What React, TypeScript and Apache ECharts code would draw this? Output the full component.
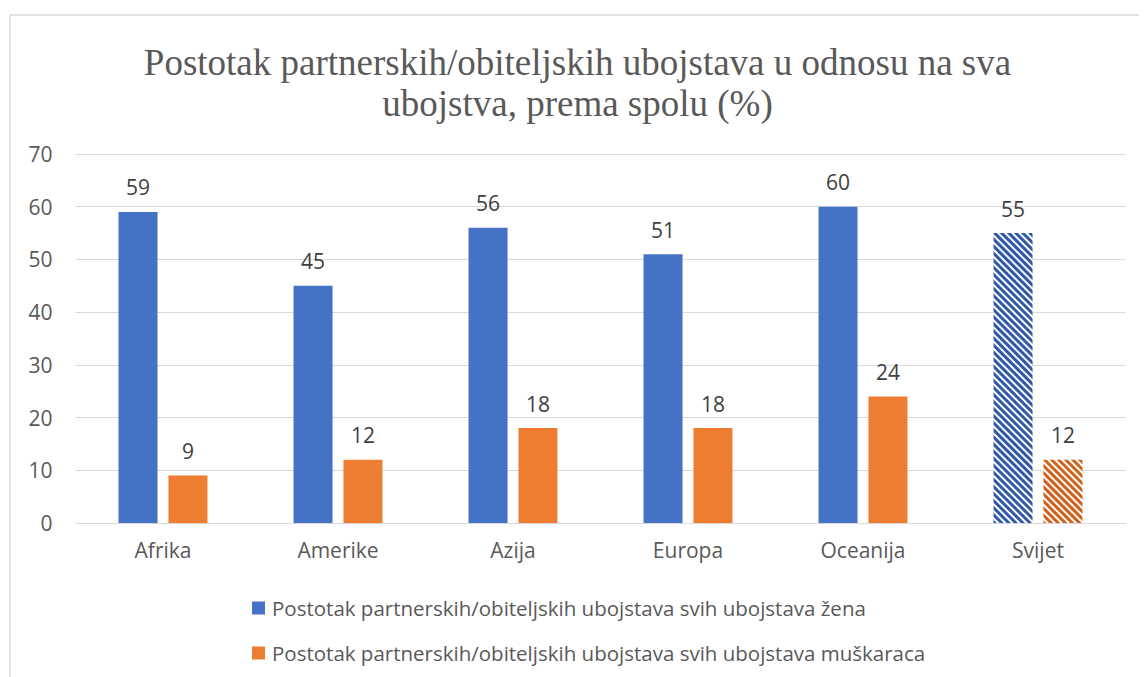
import React, { useEffect, useRef } from "react";
import * as echarts from "echarts";

const categories = ["Afrika", "Amerike", "Azija", "Europa", "Oceanija", "Svijet"];
const womenValues = [59, 45, 56, 51, 60, 55];
const menValues = [9, 12, 18, 18, 24, 12];
const seriesNames = [
  "Postotak partnerskih/obiteljskih ubojstava svih ubojstava žena",
  "Postotak partnerskih/obiteljskih ubojstava svih ubojstava muškaraca",
];
const titleText = "Postotak partnerskih/obiteljskih ubojstava u odnosu na sva\nubojstva, prema spolu (%)";

const BLUE = "#4472C4";
const ORANGE = "#ED7D31";
const HATCH_BLUE = "#2F58A8";
const HATCH_ORANGE = "#D0611A";
const FONT = "'Open Sans', 'Noto Sans', sans-serif";

function buildData(values: number[], hatch: string) {
  return values.map((v, i) =>
    categories[i] === "Svijet"
      ? {
          value: v,
          itemStyle: {
            color: "#ffffff",
            decal: {
              symbol: "rect",
              symbolSize: 1,
              dashArrayX: [[1, 0]],
              dashArrayY: [2.5, 2],
              rotation: Math.PI / 4,
              color: hatch,
            },
          },
        }
      : v
  );
}

export default function App() {
  const ref = useRef<HTMLDivElement>(null);
  useEffect(() => {
    if (!ref.current) return;
    const chart = echarts.init(ref.current, undefined, { renderer: "svg" });
    const labelCfg = {
      show: true,
      position: "top",
      distance: 14,
      color: "#404040",
      fontSize: 21,
      fontFamily: FONT,
    };
    chart.setOption({
      animation: false,
      backgroundColor: "#ffffff",
      graphic: [
        {
          type: "rect",
          shape: { x: 2, y: 7, width: 1200, height: 800 },
          style: { fill: "none", stroke: "#D9D9D9", lineWidth: 1.5 },
          silent: true,
          z: -1,
        },
      ],
      title: {
        text: titleText,
        left: "center",
        top: 29,
        textStyle: {
          fontFamily: "'Liberation Serif', 'Times New Roman', serif",
          fontSize: 37,
          fontWeight: "normal",
          color: "#595959",
          lineHeight: 41,
        },
      },
      grid: { left: 67.5, right: 21.5, top: 146, bottom: 154, containLabel: false },
      xAxis: {
        type: "category",
        data: categories,
        axisLine: { lineStyle: { color: "#D9D9D9", width: 1 } },
        axisTick: { show: false },
        axisLabel: { color: "#595959", fontSize: 21, fontFamily: FONT, margin: 16 },
      },
      yAxis: {
        type: "value",
        min: 0,
        max: 70,
        interval: 10,
        axisLine: { show: false },
        axisTick: { show: false },
        splitLine: { lineStyle: { color: "#D9D9D9", width: 1 } },
        axisLabel: { color: "#595959", fontSize: 21, fontFamily: FONT, margin: 23 },
      },
      legend: {
        orient: "vertical",
        left: 239,
        top: 583,
        itemWidth: 13,
        itemHeight: 13,
        itemGap: 21,
        icon: "rect",
        textStyle: {
          color: "#595959",
          fontSize: 20.5,
          fontFamily: FONT,
          lineHeight: 24,
          padding: [0, 0, 0, 2],
        },
        data: seriesNames,
      },
      series: [
        {
          name: seriesNames[0],
          type: "bar",
          data: buildData(womenValues, HATCH_BLUE),
          itemStyle: { color: BLUE },
          barWidth: 39,
          barGap: "28%",
          label: labelCfg,
        },
        {
          name: seriesNames[1],
          type: "bar",
          data: buildData(menValues, HATCH_ORANGE),
          itemStyle: { color: ORANGE },
          barWidth: 39,
          barGap: "28%",
          label: labelCfg,
        },
      ],
    });
    return () => chart.dispose();
  }, []);
  return <div ref={ref} style={{ width: 1139, height: 669 }} />;
}
